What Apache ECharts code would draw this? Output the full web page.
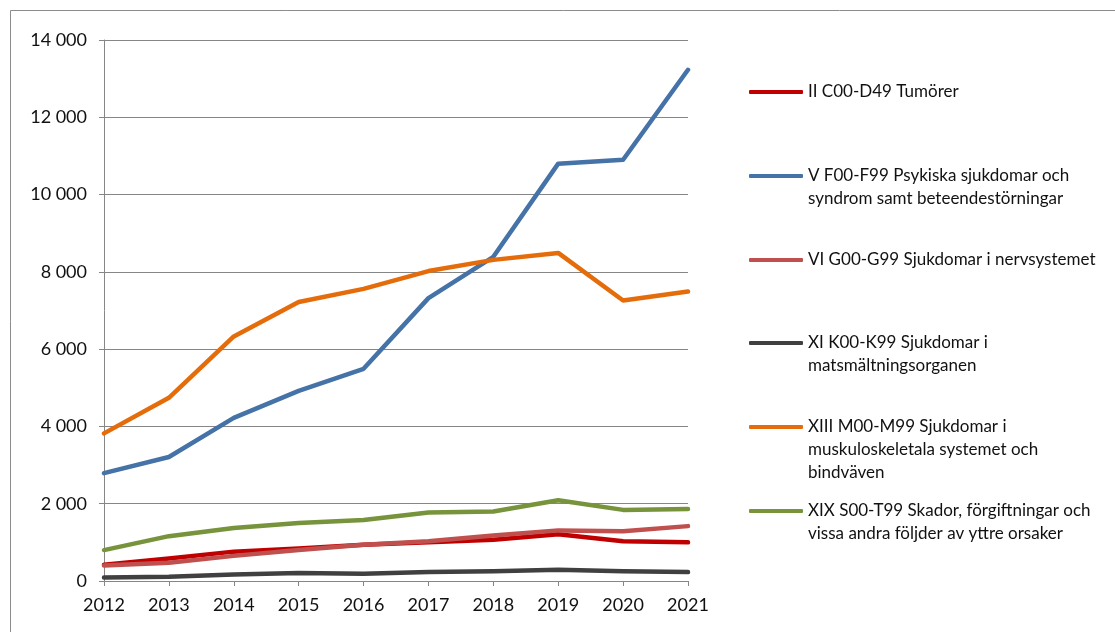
<!DOCTYPE html>
<html>
<head>
<meta charset="utf-8">
<script src="https://cdn.jsdelivr.net/npm/echarts@6/dist/echarts.min.js"></script>
<style>
  html, body { margin: 0; padding: 0; background: #fff; }
  #chart { width: 1115px; height: 632px; }
</style>
</head>
<body>
<div id="chart"></div>
<script>
const years = ['2012', '2013', '2014', '2015', '2016', '2017', '2018', '2019', '2020', '2021'];

const tumorer   = [420, 580, 760, 840, 940, 1000, 1070, 1210, 1030, 1000];
const psykiska  = [2790, 3210, 4220, 4920, 5490, 7320, 8390, 10800, 10900, 13230];
const nerv      = [400, 470, 650, 800, 940, 1030, 1180, 1310, 1290, 1420];
const matsmalt  = [90, 110, 170, 210, 190, 230, 250, 290, 250, 230];
const muskulo   = [3820, 4740, 6330, 7220, 7560, 8020, 8310, 8490, 7260, 7490];
const skador    = [800, 1160, 1370, 1500, 1580, 1770, 1800, 2090, 1840, 1860];

const names = [
  'II C00-D49 Tumörer',
  'V F00-F99 Psykiska sjukdomar och\nsyndrom samt beteendestörningar',
  'VI G00-G99 Sjukdomar i nervsystemet',
  'XI K00-K99 Sjukdomar i\nmatsmältningsorganen',
  'XIII M00-M99 Sjukdomar i\nmuskuloskeletala systemet och\nbindväven',
  'XIX S00-T99 Skador, förgiftningar och\nvissa andra följder av yttre orsaker'
];
const values = [tumorer, psykiska, nerv, matsmalt, muskulo, skador];
const colors = ['#C00000', '#4572A7', '#C0504D', '#404040', '#E46C0A', '#77933C'];

// first-line centre of each legend entry
const legendY = [92, 176, 260, 343, 427, 511];
const LH = 23;
const FONT = 'Lato';

const chart = echarts.init(document.getElementById('chart'), null, { renderer: 'canvas' });

const fmt = v => String(v).replace(/\B(?=(\d{3})+(?!\d))/g, ' ');

chart.setOption({
  animation: false,
  backgroundColor: '#fff',
  grid: { left: 104, right: 427, top: 40, bottom: 51 },
  graphic: [{
    type: 'rect', silent: true,
    shape: { x: 10.5, y: 10.5, width: 1130, height: 650 },
    style: { fill: 'none', stroke: '#8c8c8c', lineWidth: 1 }
  }],
  legend: names.map((n, i) => {
    const lines = n.split('\n').length;
    return {
      data: [n],
      orient: 'vertical',
      left: 749,
      top: legendY[i] - (2 * lines - 1) * LH / 2,
      padding: 0,
      selectedMode: false,
      icon: 'roundRect',
      itemWidth: 54,
      itemHeight: 4,
      // blank lines in front keep the first text line level with the icon
      formatter: name => '\n'.repeat(lines - 1) + name,
      textStyle: { fontFamily: FONT, fontSize: 17, color: '#111', lineHeight: LH }
    };
  }),
  xAxis: {
    type: 'category',
    data: years,
    boundaryGap: false,
    axisLine: { lineStyle: { color: '#868686', width: 1 } },
    axisTick: { show: true, length: 5, alignWithLabel: true, lineStyle: { color: '#868686' } },
    axisLabel: { fontFamily: FONT, fontSize: 18, color: '#111', margin: 15 }
  },
  yAxis: {
    type: 'value',
    min: 0, max: 14000, interval: 2000,
    axisLine: { show: true, lineStyle: { color: '#868686', width: 1 } },
    axisTick: { show: true, length: 5, lineStyle: { color: '#868686' } },
    axisLabel: { fontFamily: FONT, fontSize: 18, color: '#111', margin: 17, formatter: fmt },
    splitLine: { lineStyle: { color: '#868686', width: 1 } }
  },
  series: names.map((n, i) => ({
    name: n,
    type: 'line',
    data: values[i],
    symbol: 'none',
    showSymbol: false,
    color: colors[i],
    lineStyle: { color: colors[i], width: 4.5, cap: 'round', join: 'round' }
  }))
});
</script>
</body>
</html>
